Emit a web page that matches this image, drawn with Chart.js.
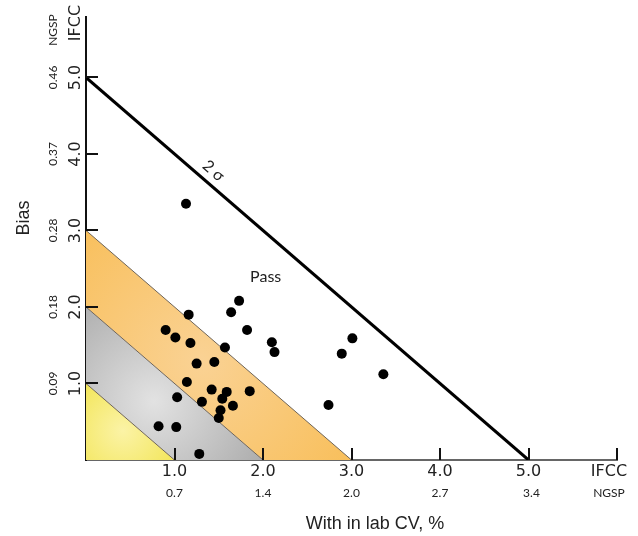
<!DOCTYPE html>
<html>
<head>
<meta charset="utf-8">
<script src="https://cdn.jsdelivr.net/npm/chart.js@4.4.1/dist/chart.umd.min.js"></script>
<style>
html,body{margin:0;padding:0;background:#fff;}
#wrap{width:638px;height:536px;}
</style>
</head>
<body>
<div id="wrap"><canvas id="c" width="638" height="536"></canvas></div>
<script>
// ---- data ----
const xTickValues = [1, 2, 3, 4, 5, 6];
const xTickLabels = ['1.0', '2.0', '3.0', '4.0', '5.0', 'IFCC'];
const xNgspLabels = ['0.7', '1.4', '2.0', '2.7', '3.4', 'NGSP'];
const yTickValues = [1, 2, 3, 4, 5];
const yTickLabels = ['1.0', '2.0', '3.0', '4.0', '5.0'];
const yNgspLabels = ['0.09', '0.18', '0.28', '0.37', '0.46'];
const yTopLabels = ['IFCC', 'NGSP'];
const zoneLimits = [1, 2, 3];      // x + y = limit boundaries
const sigmaLimit = 5;              // 2 sigma line x + y = 5
const cvValues = [1.13, 1.73, 1.64, 1.16, 0.90, 1.01, 1.18, 1.82, 1.57, 2.10,
                  2.13, 3.01, 2.89, 3.36, 1.25, 1.45, 1.14, 1.42, 1.59, 1.85,
                  1.54, 1.66, 1.52, 1.50, 1.31, 1.03, 0.82, 1.02, 1.28, 2.74];
const biasValues = [3.35, 2.08, 1.93, 1.90, 1.70, 1.60, 1.53, 1.70, 1.47, 1.54,
                    1.41, 1.59, 1.39, 1.12, 1.26, 1.28, 1.02, 0.92, 0.89, 0.90,
                    0.80, 0.71, 0.65, 0.55, 0.76, 0.82, 0.44, 0.43, 0.08, 0.72];
const xTitle = 'With in lab CV, %';
const yTitle = 'Bias';
const sigmaText = '2 σ';
const passText = 'Pass';

const points = cvValues.map((v, i) => ({x: v, y: biasValues[i]}));
const sigmaLine = [{x: 0, y: sigmaLimit}, {x: sigmaLimit, y: 0}];

const zonesPlugin = {
  id: 'zones',
  beforeDatasetsDraw(chart) {
    const {ctx, scales: {x, y}} = chart;
    const P = (a, b) => [x.getPixelForValue(a), y.getPixelForValue(b)];
    const poly = (pts) => { ctx.beginPath(); pts.forEach((p, i) => { const q = P(p[0], p[1]); i ? ctx.lineTo(q[0], q[1]) : ctx.moveTo(q[0], q[1]); }); ctx.closePath(); };
    const rg = (cx, cy, r, inner, outer) => {
      const c = P(cx, cy);
      const g = ctx.createRadialGradient(c[0], c[1], 0, c[0], c[1], r);
      g.addColorStop(0, inner); g.addColorStop(1, outer); return g;
    };
    const [l1, l2, l3] = zoneLimits;
    ctx.save();
    // orange band
    poly([[0, l2], [l2, 0], [l3, 0], [0, l3]]);
    ctx.fillStyle = rg(l3 / 2.3, l3 / 2.3, 200, '#FAD294', '#F8BD55');
    ctx.fill();
    // gray band
    poly([[0, l1], [l1, 0], [l2, 0], [0, l2]]);
    ctx.fillStyle = rg(l2 / 2.6, l2 / 2.6, 125, '#E2E2E2', '#ACACAC');
    ctx.fill();
    // yellow triangle
    poly([[0, 0], [l1, 0], [0, l1]]);
    ctx.fillStyle = rg(l1 / 2.4, l1 / 2.6, 80, '#FBF3A6', '#F0E140');
    ctx.fill();
    // boundary lines
    ctx.strokeStyle = '#6e6458';
    ctx.lineWidth = 1;
    zoneLimits.forEach(l => {
      const a = P(0, l), b = P(l, 0);
      ctx.beginPath(); ctx.moveTo(a[0], a[1]); ctx.lineTo(b[0], b[1]); ctx.stroke();
    });
    ctx.restore();
  },
  afterDraw(chart) {
    const {ctx, scales: {x, y}, chartArea} = chart;
    ctx.save();
    // tick marks (inward)
    ctx.strokeStyle = '#111';
    ctx.lineWidth = 2;
    xTickValues.forEach(v => {
      const px = Math.round(x.getPixelForValue(v));
      ctx.beginPath(); ctx.moveTo(px, chartArea.bottom); ctx.lineTo(px, chartArea.bottom - 12); ctx.stroke();
    });
    yTickValues.forEach(v => {
      const py = Math.round(y.getPixelForValue(v));
      ctx.beginPath(); ctx.moveTo(chartArea.left, py); ctx.lineTo(chartArea.left + 12, py); ctx.stroke();
    });
    // x tick labels
    ctx.fillStyle = '#222';
    ctx.textAlign = 'center';
    ctx.textBaseline = 'middle';
    xTickValues.forEach((v, i) => {
      let px = x.getPixelForValue(v);
      if (i === xTickValues.length - 1) px -= 8;
      ctx.font = '16px "DejaVu Sans"';
      ctx.fillText(xTickLabels[i], px, chartArea.bottom + 12);
      ctx.font = '12px Lato';
      ctx.fillText(xNgspLabels[i], px + (i === 4 ? 3 : 0), chartArea.bottom + 33);
    });
    // y tick labels (rotated)
    yTickValues.forEach((v, i) => {
      const py = y.getPixelForValue(v);
      ctx.save(); ctx.translate(76, py); ctx.rotate(-Math.PI / 2);
      ctx.font = '16px "DejaVu Sans"'; ctx.fillText(yTickLabels[i], 0, 0); ctx.restore();
      ctx.save(); ctx.translate(53, py); ctx.rotate(-Math.PI / 2);
      ctx.font = '12px Lato'; ctx.fillText(yNgspLabels[i], 0, 0); ctx.restore();
    });
    ctx.save(); ctx.translate(76, 23); ctx.rotate(-Math.PI / 2);
    ctx.font = '16px "DejaVu Sans"'; ctx.fillText(yTopLabels[0], 0, 0); ctx.restore();
    ctx.save(); ctx.translate(53, 30); ctx.rotate(-Math.PI / 2);
    ctx.font = '12px Lato'; ctx.fillText(yTopLabels[1], 0, 0); ctx.restore();
    // axis titles
    ctx.font = '18px "Liberation Sans"';
    ctx.fillText(xTitle, 375, 524);
    ctx.save(); ctx.translate(24, 218); ctx.rotate(-Math.PI / 2);
    ctx.fillText(yTitle, 0, 0); ctx.restore();
    // annotations
    ctx.font = '16px Lato';
    ctx.fillStyle = '#222';
    ctx.fillText(passText, x.getPixelForValue(2.03), y.getPixelForValue(2.40));
    const a = [x.getPixelForValue(0), y.getPixelForValue(sigmaLimit)];
    const b = [x.getPixelForValue(sigmaLimit), y.getPixelForValue(0)];
    const ang = Math.atan2(b[1] - a[1], b[0] - a[0]);
    ctx.save(); ctx.translate(x.getPixelForValue(1.44), y.getPixelForValue(3.78)); ctx.rotate(ang);
    ctx.font = '16px Lato'; ctx.fillText(sigmaText, 0, 0); ctx.restore();
    ctx.restore();
  }
};

new Chart(document.getElementById('c'), {
  type: 'scatter',
  data: {
    datasets: [
      {
        type: 'line',
        data: sigmaLine,
        borderColor: '#000',
        borderWidth: 3,
        pointRadius: 0,
        fill: false,
        order: 2
      },
      {
        data: points,
        backgroundColor: '#000',
        borderColor: '#000',
        pointRadius: 5,
        pointBorderWidth: 0,
        order: 1
      }
    ]
  },
  options: {
    responsive: false,
    animation: false,
    layout: {padding: {left: 86, right: 21, top: 17, bottom: 76}},
    plugins: {legend: {display: false}, tooltip: {enabled: false}},
    scales: {
      x: {
        type: 'linear', min: 0, max: 6,
        grid: {display: false, drawTicks: false},
        ticks: {display: false},
        border: {display: true, color: '#666', width: 2}
      },
      y: {
        type: 'linear', min: 0, max: 5.79,
        grid: {display: false, drawTicks: false},
        ticks: {display: false},
        border: {display: true, color: '#111', width: 2}
      }
    }
  },
  plugins: [zonesPlugin]
});
</script>
</body>
</html>
